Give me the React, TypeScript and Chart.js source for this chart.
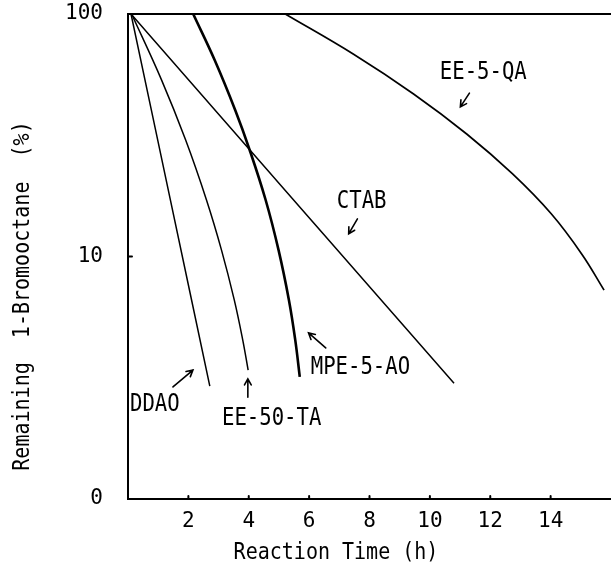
import { useEffect, useRef } from "react";
import { Chart, registerables } from "chart.js";

Chart.register(...registerables);

const FONT = "DejaVu Sans Mono";

// Axis ticks
const xTicks = [2, 4, 6, 8, 10, 12, 14];
const yTicks = [1, 10, 100];
const yTickLabels = ["0", "10", "100"];

// Series (Reaction time h, Remaining %)
const ddaoX = [0.1, 1.4, 2.71];
const ddaoY = [100, 17.2, 2.92];

const ee50taX = [0.12, 1.11, 1.91, 2.6, 3.1, 3.52, 3.8, 3.98];
const ee50taY = [100, 53.5, 30.2, 17.1, 10.6, 6.62, 4.53, 3.4];

const mpeX = [2.16, 2.87, 3.55, 4.03, 4.56, 4.99, 5.33, 5.54, 5.69];
const mpeY = [100, 64.6, 40.2, 27.5, 17.1, 10.6, 6.62, 4.53, 3.19];

const ctabX = [0.1, 10.8];
const ctabY = [100, 3.0];

const ee5qaX = [5.21, 7.46, 9.46, 11.22, 12.74, 14.02, 15.04, 15.77];
const ee5qaY = [100, 68.4, 46.8, 32.0, 21.9, 15.0, 10.2, 7.27];

// Annotation labels (data coordinates of text centre)
const annText = ["EE-5-QA", "CTAB", "MPE-5-AO", "DDAO", "EE-50-TA"];
const annX = [11.77, 7.74, 7.7, 0.89, 4.76];
const annY = [57.1, 16.8, 3.47, 2.44, 2.14];

// Arrows (tail -> head, data coordinates)
const arrTailX = [11.31, 7.6, 6.55, 1.49, 3.97];
const arrTailY = [47.2, 14.3, 4.2, 2.9, 2.63];
const arrHeadX = [11.01, 7.31, 5.98, 2.15, 3.97];
const arrHeadY = [41.4, 12.4, 4.84, 3.4, 3.13];

const xTitle = "Reaction Time (h)";
const yTitle = "Remaining  1-Bromooctane  (%)";

const toPts = (xs: number[], ys: number[]) => xs.map((x, i) => ({ x, y: ys[i] }));

function drawArrow(ctx: CanvasRenderingContext2D, x1: number, y1: number, x2: number, y2: number) {
  const ang = Math.atan2(y2 - y1, x2 - x1);
  const len = 7;
  const spread = 0.5;
  ctx.beginPath();
  ctx.moveTo(x1, y1);
  ctx.lineTo(x2, y2);
  ctx.moveTo(x2 - len * Math.cos(ang - spread), y2 - len * Math.sin(ang - spread));
  ctx.lineTo(x2, y2);
  ctx.lineTo(x2 - len * Math.cos(ang + spread), y2 - len * Math.sin(ang + spread));
  ctx.stroke();
}

function narrowText(ctx: CanvasRenderingContext2D, t: string, x: number, y: number, sx: number) {
  ctx.save();
  ctx.translate(x, y);
  ctx.scale(sx, 1);
  ctx.fillText(t, 0, 0);
  ctx.restore();
}

const decorPlugin = {
  id: "decor",
  afterDraw(chart: any) {
    const { ctx, chartArea } = chart;
    const xs = chart.scales.x;
    const ys = chart.scales.y;
    ctx.save();
    ctx.strokeStyle = "#000";
    ctx.fillStyle = "#000";
    ctx.lineCap = "round";
    // top border
    ctx.lineWidth = 2;
    ctx.beginPath();
    ctx.moveTo(chartArea.left, chartArea.top);
    ctx.lineTo(chartArea.right, chartArea.top);
    ctx.stroke();
    // inward tick marks
    xTicks.forEach((v) => {
      const px = xs.getPixelForValue(v);
      ctx.beginPath();
      ctx.moveTo(px, chartArea.bottom);
      ctx.lineTo(px, chartArea.bottom - 3);
      ctx.stroke();
    });
    [10].forEach((v) => {
      const py = ys.getPixelForValue(v);
      ctx.beginPath();
      ctx.moveTo(chartArea.left, py);
      ctx.lineTo(chartArea.left + 4, py);
      ctx.stroke();
    });
    // annotations
    ctx.font = `24px "${FONT}"`;
    ctx.textAlign = "center";
    ctx.textBaseline = "middle";
    annText.forEach((t, i) => {
      narrowText(ctx, t, xs.getPixelForValue(annX[i]), ys.getPixelForValue(annY[i]), 0.86);
    });
    ctx.lineWidth = 1.6;
    arrTailX.forEach((_, i) => {
      drawArrow(
        ctx,
        xs.getPixelForValue(arrTailX[i]),
        ys.getPixelForValue(arrTailY[i]),
        xs.getPixelForValue(arrHeadX[i]),
        ys.getPixelForValue(arrHeadY[i])
      );
    });
    // axis titles
    ctx.font = `23px "${FONT}"`;
    narrowText(ctx, xTitle, 336, 553, 0.87);
    ctx.translate(23, 296);
    ctx.rotate(-Math.PI / 2);
    narrowText(ctx, yTitle, 0, 0, 0.87);
    ctx.restore();
  },
};

export default function App() {
  const ref = useRef<HTMLCanvasElement | null>(null);
  useEffect(() => {
    if (!ref.current) return;
    const line = (label: string, xs: number[], ys: number[], w: number) => ({
      label,
      data: toPts(xs, ys),
      borderColor: "#000",
      borderWidth: w,
      pointRadius: 0,
      fill: false,
      tension: 0.4,
    });
    const chart = new Chart(ref.current, {
      type: "line",
      data: {
        datasets: [
          line("DDAO", ddaoX, ddaoY, 1.5),
          line("EE-50-TA", ee50taX, ee50taY, 1.5),
          line("MPE-5-AO", mpeX, mpeY, 2.6),
          line("CTAB", ctabX, ctabY, 1.5),
          line("EE-5-QA", ee5qaX, ee5qaY, 1.7),
        ],
      },
      options: {
        animation: false,
        responsive: false,
        devicePixelRatio: 1,
        layout: { padding: { top: 14, left: 0, right: 0, bottom: 0 } },
        plugins: { legend: { display: false }, tooltip: { enabled: false } },
        scales: {
          x: {
            type: "linear",
            min: 0,
            max: 16,
            afterBuildTicks: (s: any) => {
              s.ticks = xTicks.map((v) => ({ value: v }));
            },
            afterFit: (s: any) => {
              s.height = 69;
              s.paddingLeft = 0;
              s.paddingRight = 0;
              s.paddingTop = 0;
              s.paddingBottom = 0;
            },
            grid: { display: false, drawTicks: false },
            border: { display: true, color: "#000", width: 2 },
            ticks: {
              autoSkip: false,
              maxRotation: 0,
              color: "#000",
              padding: 10,
              font: { family: FONT, size: 21 },
            },
          },
          y: {
            type: "logarithmic",
            min: 1,
            max: 100,
            afterBuildTicks: (s: any) => {
              s.ticks = yTicks.map((v) => ({ value: v }));
            },
            afterFit: (s: any) => {
              s.width = 128;
              s.paddingLeft = 0;
              s.paddingRight = 0;
              s.paddingTop = 0;
              s.paddingBottom = 0;
            },
            grid: { display: false, drawTicks: false },
            border: { display: true, color: "#000", width: 2 },
            ticks: {
              autoSkip: false,
              color: "#000",
              padding: 25,
              font: { family: FONT, size: 21 },
              callback: (v: any) => {
                const i = yTicks.indexOf(Number(v));
                return i >= 0 ? yTickLabels[i] : "";
              },
            },
          },
        },
      },
      plugins: [decorPlugin],
    });
    return () => chart.destroy();
  }, []);
  return (
    <div style={{ position: "fixed", left: 0, top: 0, width: 611, height: 568, background: "#fff" }}>
      <canvas ref={ref} width={611} height={568} style={{ display: "block" }} />
    </div>
  );
}
